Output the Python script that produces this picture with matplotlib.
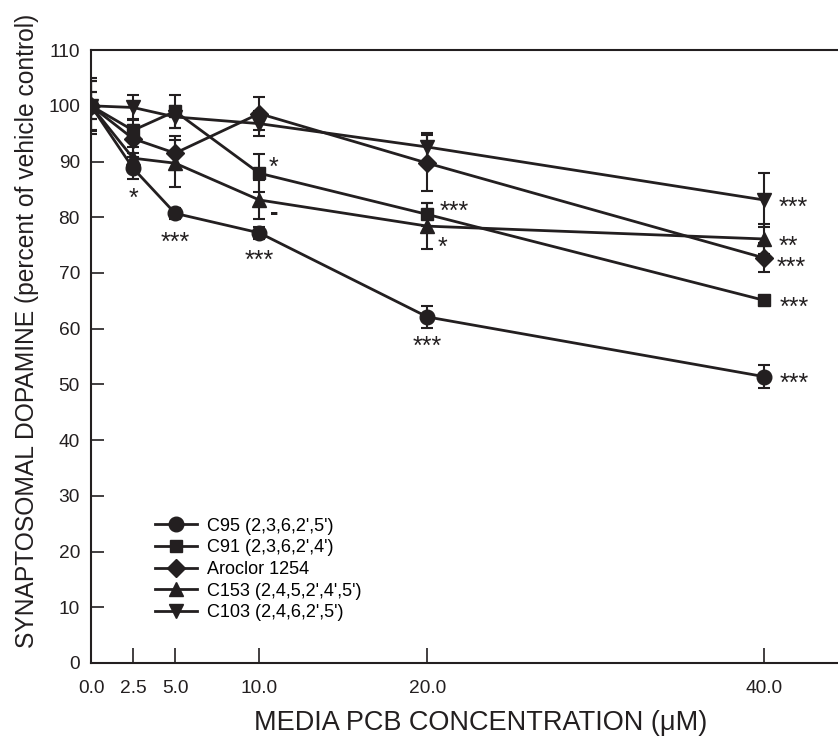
import numpy as np
import matplotlib.pyplot as plt

plt.rcParams['font.family'] = ['Liberation Sans', 'DejaVu Sans']

conc = [0.0, 2.5, 5.0, 10.0, 20.0, 40.0]
xtick_labels = ["0.0", "2.5", "5.0", "10.0", "20.0", "40.0"]

labels = ["C95 (2,3,6,2',5')", "C91 (2,3,6,2',4')", "Aroclor 1254",
          "C153 (2,4,5,2',4',5')", "C103 (2,4,6,2',5')"]
markers = ["o", "s", "D", "^", "v"]

c95 = [100, 88.8, 80.7, 77.2, 62.1, 51.4]
c95_err = [4.5, 2.0, 1.0, 1.1, 2.0, 2.1]
c91 = [100, 95.6, 99.0, 87.9, 80.5, 65.1]
c91_err = [2.4, 2.0, 3.0, 3.4, 2.1, 0.5]
aroclor = [100, 94.1, 91.5, 98.6, 89.7, 72.7]
aroclor_err = [5.0, 2.5, 3.0, 2.9, 5.0, 2.6]
c153 = [100, 90.6, 89.7, 83.1, 78.4, 76.1]
c153_err = [4.4, 2.0, 4.2, 3.5, 4.1, 2.7]
c103 = [100, 99.7, 98.0, 96.8, 92.6, 83.1]
c103_err = [2.4, 2.2, 2.0, 2.2, 2.6, 4.9]

series = [c95, c91, aroclor, c153, c103]
errors = [c95_err, c91_err, aroclor_err, c153_err, c103_err]

# significance marks: (series index, point index, text, offset of centre in points)
stars = [
    (0, 1, "*", (0, -16.5)), (0, 2, "***", (0, -16)), (0, 3, "***", (0, -15)),
    (0, 4, "***", (0, -16)), (0, 5, "***", (22, 0)),
    (1, 3, "*", (10.5, 9)), (3, 3, "-", (10.5, -8.5)),
    (1, 4, "***", (19.5, 7)), (3, 4, "*", (11, -10)),
    (4, 5, "***", (21, 0)), (3, 5, "**", (17.5, 0)),
    (2, 5, "***", (19.5, -2)), (1, 5, "***", (22, 0)),
]

ink = "#231f20"
msizes = [10.5, 9, 9.5, 10.5, 10.5]

fig = plt.figure(figsize=(8.38, 7.42), dpi=100)
ax = fig.add_axes([0.1086, 0.1065, 0.8914, 0.826])

handles = []
for vals, err, m, ms, lab in zip(series, errors, markers, msizes, labels):
    cont = ax.errorbar(conc, vals, yerr=err, marker=m, ms=ms, color=ink,
                       lw=2.0, elinewidth=1.5, capsize=4, capthick=1.5,
                       label=lab)
    handles.append(cont[0])

for si, pi, txt, off in stars:
    # asterisk glyph centre sits about 0.58 em above the baseline
    fs = 18
    shift = 0.58 * fs if txt != "-" else 0.33 * fs
    ax.annotate(txt, (conc[pi], series[si][pi]),
                xytext=(off[0], off[1] - shift),
                textcoords="offset points", ha="center", va="baseline",
                fontsize=fs, color=ink,
                fontweight="bold" if txt == "-" else "normal")

ax.set_xlim(0, 44.4)
ax.set_ylim(0, 110)
ax.set_xticks(conc)
ax.set_xticklabels(xtick_labels)
ax.set_yticks(np.arange(0, 111, 10))
ax.tick_params(direction="in", length=9, width=1.2, labelsize=13.8,
               colors=ink, pad=8)
ax.tick_params(axis="x", length=11, pad=12.5)
for side in ["left", "bottom", "top"]:
    ax.spines[side].set_linewidth(1.5)
    ax.spines[side].set_color(ink)
ax.spines["right"].set_visible(False)

ax.set_xlabel(u"MEDIA PCB CONCENTRATION (\u03bcM)", fontsize=19.5, color=ink)
ax.set_ylabel("SYNAPTOSOMAL DOPAMINE (percent of vehicle control)",
              fontsize=17.7, color=ink)
ax.xaxis.set_label_coords(0.521, -0.0765)
ax.yaxis.set_label_coords(-0.0696, 0.542)

ax.legend(handles=handles, labels=labels, loc="upper left",
          bbox_to_anchor=(0.076, 0.249), borderaxespad=0, frameon=False,
          fontsize=13, handlelength=2.3, labelspacing=0.26,
          handletextpad=0.6)

fig.savefig("out.png", dpi=100)
